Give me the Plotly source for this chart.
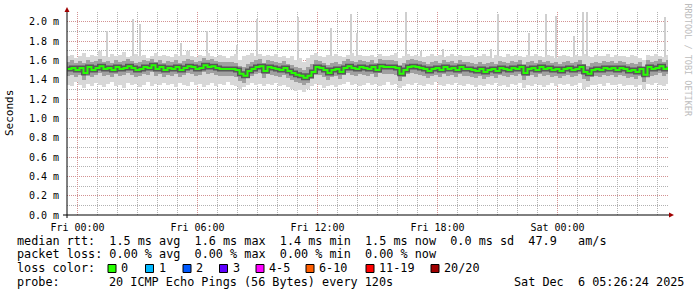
import plotly.graph_objects as go

# ---------------- data ----------------
# time axis: hours relative to Fri 00:00, one sample every 12 minutes
t_start, t_step, n_pts = -0.5, 0.2, 151
hours = [round(t_start + t_step * i, 3) for i in range(n_pts)]

median = [
    1.51,1.52,1.50,1.52,1.47,1.53,1.50,1.52,1.54,1.51,1.52,1.50,1.53,1.51,1.52,1.54,1.52,1.50,1.51,1.53,1.52,1.55,1.51,1.53,1.50,
    1.52,1.51,1.53,1.50,1.52,1.54,1.53,1.51,1.52,1.55,1.53,1.54,1.52,1.51,1.51,1.51,1.51,1.50,1.46,1.44,1.49,1.51,1.53,1.54,1.49,
    1.53,1.52,1.51,1.50,1.52,1.49,1.47,1.45,1.44,1.42,1.44,1.48,1.53,1.52,1.50,1.47,1.50,1.51,1.48,1.52,1.54,1.52,1.51,1.53,1.52,
    1.51,1.53,1.50,1.54,1.53,1.53,1.53,1.52,1.46,1.50,1.53,1.54,1.53,1.52,1.51,1.49,1.51,1.52,1.50,1.53,1.51,1.52,1.50,1.53,1.51,
    1.51,1.50,1.49,1.51,1.48,1.50,1.51,1.49,1.52,1.51,1.50,1.52,1.51,1.53,1.47,1.51,1.52,1.50,1.53,1.51,1.52,1.50,1.51,1.49,1.51,
    1.52,1.50,1.51,1.53,1.48,1.46,1.50,1.51,1.50,1.52,1.51,1.52,1.50,1.52,1.51,1.49,1.50,1.48,1.51,1.45,1.53,1.51,1.52,1.54,1.51,1.53,
]
outer_hi = [
    1.64,1.66,1.62,1.65,1.68,1.63,1.66,1.64,1.70,1.65,1.63,1.67,1.64,1.66,1.69,1.63,1.65,1.67,1.64,1.66,1.62,1.65,1.68,1.64,1.66,
    1.65,1.63,1.67,1.64,1.66,1.70,1.65,1.63,1.66,1.64,1.68,1.65,1.63,1.66,1.64,1.62,1.65,1.67,1.60,1.64,1.66,1.68,1.65,1.67,1.64,
    1.66,1.64,1.67,1.63,1.65,1.62,1.64,1.60,1.62,1.58,1.62,1.66,1.68,1.65,1.63,1.66,1.64,1.67,1.65,1.63,1.66,1.68,1.64,1.66,1.65,
    1.64,1.66,1.63,1.67,1.65,1.64,1.66,1.68,1.62,1.64,1.67,1.65,1.66,1.64,1.63,1.65,1.67,1.64,1.66,1.63,1.65,1.67,1.64,1.66,1.65,
    1.64,1.66,1.63,1.65,1.67,1.64,1.62,1.66,1.65,1.63,1.67,1.64,1.66,1.65,1.63,1.66,1.64,1.67,1.65,1.63,1.66,1.64,1.62,1.65,1.66,
    1.65,1.63,1.66,1.64,1.67,1.65,1.63,1.66,1.64,1.65,1.67,1.63,1.66,1.64,1.65,1.63,1.66,1.64,1.62,1.60,1.66,1.64,1.67,1.65,1.63,1.66,
]
outer_lo = [
    1.35,1.33,1.38,1.34,1.31,1.36,1.33,1.37,1.34,1.32,1.36,1.38,1.33,1.35,1.31,1.37,1.34,1.36,1.32,1.35,1.38,1.33,1.36,1.34,1.37,
    1.34,1.36,1.32,1.37,1.35,1.33,1.38,1.34,1.36,1.32,1.35,1.37,1.33,1.36,1.34,1.38,1.35,1.33,1.30,1.32,1.35,1.37,1.34,1.36,1.33,
    1.36,1.34,1.37,1.33,1.35,1.32,1.30,1.28,1.29,1.27,1.30,1.33,1.36,1.34,1.31,1.33,1.35,1.32,1.34,1.36,1.38,1.34,1.36,1.33,1.35,
    1.37,1.34,1.36,1.33,1.35,1.38,1.34,1.36,1.31,1.33,1.36,1.34,1.37,1.35,1.33,1.36,1.34,1.38,1.35,1.33,1.36,1.34,1.37,1.35,1.33,
    1.36,1.34,1.32,1.35,1.33,1.36,1.34,1.37,1.33,1.35,1.32,1.36,1.34,1.37,1.31,1.35,1.33,1.36,1.34,1.32,1.35,1.37,1.33,1.36,1.34,
    1.36,1.33,1.35,1.37,1.30,1.32,1.35,1.34,1.36,1.33,1.37,1.35,1.34,1.36,1.33,1.35,1.34,1.32,1.35,1.30,1.36,1.34,1.37,1.35,1.33,1.36,
]
mid_hi = [
    1.58,1.60,1.57,1.59,1.57,1.60,1.58,1.59,1.61,1.58,1.59,1.57,1.60,1.58,1.59,1.61,1.59,1.57,1.58,1.60,1.59,1.61,1.58,1.60,1.57,
    1.59,1.58,1.60,1.57,1.59,1.61,1.60,1.58,1.59,1.62,1.60,1.61,1.59,1.58,1.58,1.58,1.58,1.57,1.54,1.53,1.56,1.58,1.60,1.61,1.57,
    1.60,1.59,1.58,1.57,1.59,1.56,1.55,1.53,1.52,1.50,1.53,1.56,1.60,1.59,1.57,1.55,1.57,1.58,1.56,1.59,1.61,1.59,1.58,1.60,1.59,
    1.58,1.60,1.57,1.61,1.60,1.60,1.60,1.59,1.54,1.57,1.60,1.61,1.60,1.59,1.58,1.56,1.58,1.59,1.57,1.60,1.58,1.59,1.57,1.60,1.58,
    1.58,1.57,1.56,1.58,1.56,1.57,1.58,1.56,1.59,1.58,1.57,1.59,1.58,1.60,1.55,1.58,1.59,1.57,1.60,1.58,1.59,1.57,1.58,1.56,1.58,
    1.59,1.57,1.58,1.60,1.56,1.54,1.57,1.58,1.57,1.59,1.58,1.59,1.57,1.59,1.58,1.56,1.57,1.56,1.58,1.53,1.60,1.58,1.59,1.61,1.58,1.60,
]
mid_lo = [
    1.44,1.45,1.43,1.45,1.40,1.46,1.43,1.45,1.47,1.44,1.45,1.43,1.46,1.44,1.45,1.47,1.45,1.43,1.44,1.46,1.45,1.48,1.44,1.46,1.43,
    1.45,1.44,1.46,1.43,1.45,1.47,1.46,1.44,1.45,1.48,1.46,1.47,1.45,1.44,1.44,1.44,1.44,1.43,1.39,1.37,1.42,1.44,1.46,1.47,1.42,
    1.46,1.45,1.44,1.43,1.45,1.42,1.40,1.38,1.37,1.35,1.37,1.41,1.46,1.45,1.43,1.40,1.43,1.44,1.41,1.45,1.47,1.45,1.44,1.46,1.45,
    1.44,1.46,1.43,1.47,1.46,1.46,1.46,1.45,1.39,1.43,1.46,1.47,1.46,1.45,1.44,1.42,1.44,1.45,1.43,1.46,1.44,1.45,1.43,1.46,1.44,
    1.44,1.43,1.42,1.44,1.41,1.43,1.44,1.42,1.45,1.44,1.43,1.45,1.44,1.46,1.40,1.44,1.45,1.43,1.46,1.44,1.45,1.43,1.44,1.42,1.44,
    1.45,1.43,1.44,1.46,1.41,1.39,1.43,1.44,1.43,1.45,1.44,1.45,1.43,1.45,1.44,1.42,1.43,1.41,1.44,1.38,1.46,1.44,1.45,1.47,1.44,1.46,
]
# isolated slow pings (hour, ms)
spike_hours = [1.5, 2.8, 3.15, 5.2, 6.5, 8.0, 9.0, 11.05, 12.7, 13.7, 14.0, 16.45, 17.2, 18.3,
               20.7, 21.05, 22.6, 23.45, 23.95, 24.85, 25.3, 25.5, 29.4]
spike_tops = [1.90, 2.03, 1.98, 1.78, 1.90, 1.76, 2.03, 2.05, 1.93, 2.08, 1.88, 2.10, 1.70, 1.72,
              1.72, 2.08, 1.88, 2.08, 2.06, 1.85, 2.10, 2.10, 2.05]
spike_base = 1.55

y_ticks = [0.0, 0.2, 0.4, 0.6, 0.8, 1.0, 1.2, 1.4, 1.6, 1.8, 2.0]
y_ticktext = ["0.0 m", "0.2 m", "0.4 m", "0.6 m", "0.8 m", "1.0 m", "1.2 m", "1.4 m", "1.6 m", "1.8 m", "2.0 m"]
x_ticks = [0, 6, 12, 18, 24]
x_ticktext = ["Fri 00:00", "Fri 06:00", "Fri 12:00", "Fri 18:00", "Sat 00:00"]

loss_labels = ["0", "1", "2", "3", "4-5", "6-10", "11-19", "20/20"]
loss_colors = ["#26ff00", "#00b8ff", "#0059ff", "#5e00ff", "#ff00ff", "#ff5e00", "#ff0000", "#a00000"]

line_rtt = "median rtt:  1.5 ms avg  1.6 ms max  1.4 ms min  1.5 ms now  0.0 ms sd  47.9   am/s"
line_loss = "packet loss: 0.00 % avg  0.00 % max  0.00 % min  0.00 % now"
probe_text = "20 ICMP Echo Pings (56 Bytes) every 120s"
stamp_text = "Sat Dec  6 05:26:24 2025"

# ---------------- layout geometry (pixels) ----------------
W, H = 697, 297
L, R, T, B = 67, 29, 12, 82
PW, PH = W - L - R, H - T - B
FONT = "DejaVu Sans Mono"


def px(x):
    return (x - L) / PW


def py(y):
    return (H - B - y) / PH


fig = go.Figure()

# spikes
fig.add_trace(go.Bar(x=spike_hours, y=[v - spike_base for v in spike_tops], base=spike_base,
                     width=0.06, marker=dict(color="#cfcfcf", line=dict(width=0)), hoverinfo="skip"))
# outer smoke
fig.add_trace(go.Bar(x=hours, y=[h - l for h, l in zip(outer_hi, outer_lo)], base=outer_lo,
                     width=t_step, marker=dict(color="#d8d8d8", line=dict(width=0)), hoverinfo="skip"))
# mid smoke
fig.add_trace(go.Bar(x=hours, y=[h - l for h, l in zip(mid_hi, mid_lo)], base=mid_lo,
                     width=t_step, marker=dict(color="#a0a0a0", line=dict(width=0)), hoverinfo="skip"))
# dark core around median
fig.add_trace(go.Scatter(x=hours, y=median, mode="lines", line=dict(color="rgba(40,40,40,0.6)", width=5, shape="hv"),
                         hoverinfo="skip"))
# median
fig.add_trace(go.Scatter(x=hours, y=median, mode="lines", line=dict(color="#26ff00", width=2, shape="hv"),
                         hoverinfo="skip"))

shapes = []
# axes lines + arrows
shapes.append(dict(type="line", xref="paper", yref="paper", x0=px(63), x1=px(671), y0=py(215), y1=py(215),
                   line=dict(color="black", width=1), layer="above"))
shapes.append(dict(type="line", xref="paper", yref="paper", x0=px(67), x1=px(67), y0=py(218), y1=py(10),
                   line=dict(color="black", width=1), layer="above"))
shapes.append(dict(type="path", xref="paper", yref="paper",
                   path=f"M {px(64.5)} {py(12)} L {px(69.5)} {py(12)} L {px(67)} {py(7)} Z",
                   fillcolor="#a00000", line=dict(width=0), layer="above"))
shapes.append(dict(type="path", xref="paper", yref="paper",
                   path=f"M {px(669)} {py(212.5)} L {px(669)} {py(217.5)} L {px(674)} {py(215)} Z",
                   fillcolor="#a00000", line=dict(width=0), layer="above"))

annotations = []


def txt(x, y, s, size=11.8, anchor="left", color="black", angle=0, yanchor="middle"):
    annotations.append(dict(x=px(x), y=py(y), xref="paper", yref="paper", text=s.replace(" ", "\u00a0"),
                            showarrow=False, xanchor=anchor, yanchor=yanchor, textangle=angle,
                            font=dict(family=FONT, size=size, color=color), borderpad=0))


txt(16, 241, line_rtt)
txt(16, 254.5, line_loss)
txt(16, 268, "loss color:")
txt(16, 282, "probe:")
txt(108, 282, probe_text)
txt(513, 282, stamp_text)

box_x = [108, 145.5, 183, 219.5, 256, 306, 366, 431]
for bx, lab, col in zip(box_x, loss_labels, loss_colors):
    shapes.append(dict(type="rect", xref="paper", yref="paper", x0=px(bx), x1=px(bx + 8),
                       y0=py(272.5), y1=py(264.5), fillcolor=col, line=dict(color="black", width=1)))
    txt(bx + 12, 268, lab)

txt(10, 113, "Seconds", size=11, anchor="center", angle=-90)
txt(687.5, 60, "RRDTOOL / TOBI OETIKER", size=8.5, anchor="center", color="#bcbcbc", angle=90)

grid_major = "rgba(215,140,140,0.85)"
grid_minor = "rgba(170,170,170,0.9)"

fig.update_layout(
    width=W, height=H, margin=dict(l=L, r=R, t=T, b=B),
    paper_bgcolor="white", plot_bgcolor="white",
    showlegend=False, barmode="overlay", bargap=0,
    font=dict(family=FONT, size=10, color="black"),
    shapes=shapes, annotations=annotations,
    xaxis=dict(range=[-0.525, 29.525], tickmode="array", tickvals=x_ticks, ticktext=x_ticktext,
               ticks="outside", ticklen=3, tickcolor="rgba(0,0,0,0)",
               showgrid=True, gridcolor=grid_major, griddash="1px,1px", gridwidth=1,
               zeroline=False, showline=False, tickfont=dict(family=FONT, size=10, color="black"),
               minor=dict(tickmode="linear", tick0=0, dtick=1, showgrid=True, gridcolor=grid_minor,
                          griddash="1px,1px", gridwidth=1)),
    yaxis=dict(range=[0, 2.1], tickmode="array", tickvals=y_ticks, ticktext=y_ticktext,
               ticks="outside", ticklen=5, tickcolor="rgba(0,0,0,0)",
               showgrid=True, gridcolor=grid_major, griddash="1px,1px", gridwidth=1,
               zeroline=False, showline=False, tickfont=dict(family=FONT, size=10, color="black"),
               minor=dict(tickmode="linear", tick0=0, dtick=0.1, showgrid=True, gridcolor=grid_minor,
                          griddash="1px,1px", gridwidth=1)),
)

fig.write_html("out.html")
